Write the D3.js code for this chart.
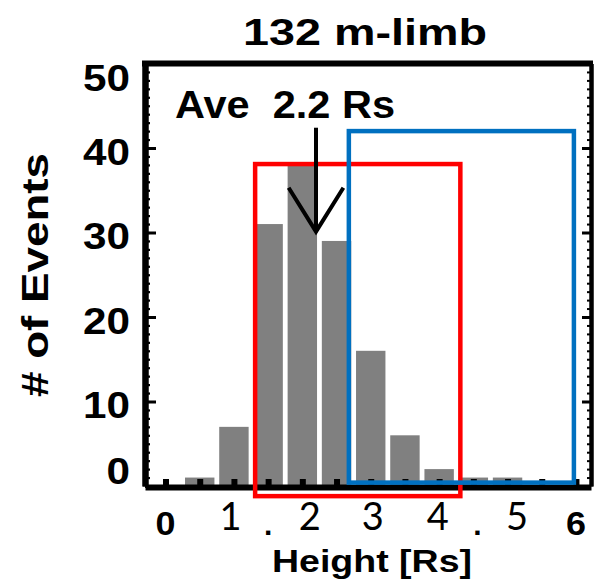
<!DOCTYPE html>
<html>
<head>
<meta charset="utf-8">
<script src="https://cdn.jsdelivr.net/npm/d3@7"></script>
<style>
  html, body { margin: 0; padding: 0; background: #fff; }
  svg { display: block; }
</style>
</head>
<body>
<script>
// ---- data ----
const binCenters = [0.5, 1.0, 1.5, 2.0, 2.5, 3.0, 3.5, 4.0, 4.5, 5.0];
const binCounts  = [1, 7, 31, 38, 29, 16, 6, 2, 1, 1];
const binWidth = 0.43;

const yTicksMajor = [0, 10, 20, 30, 40, 50];
const yTickLabels = ["0", "10", "20", "30", "40", "50"];
const xTickValues = [0, 0.5, 1, 1.5, 2, 2.5, 3, 3.5, 4, 4.5, 5, 5.5, 6];
const xTickLabels = ["0", "1", "2", "3", "4", "5", "6"];
const xTickLabelAt = [0, 0.95, 2.11, 3.03, 3.98, 5.14, 6.0];
const xDotAt = [1.5, 4.56];

const titleText = "132 m-limb";
const xTitle = "Height [Rs]";
const yTitle = "# of Events";
const aveText = "Ave  2.2 Rs";
const aveValue = 2.2;

// boxes in data units [x0, x1, y0, y1]
const redBox  = [1.31, 4.31, -1.2, 38.1];
const blueBox = [2.68, 5.97, 0.4, 42.0];
// arrow in data units
const arrowTop = 42.4, arrowTip = 30.1, arrowWingY = 35.3, arrowWingDx = 0.4;

// ---- layout ----
const W = 594, H = 584;
const x = d3.scaleLinear().domain([-0.3, 6.22]).range([145, 591]);
const y = d3.scaleLinear().domain([0, 50]).range([486, 63.5]);

const svg = d3.select("body").append("svg").attr("width", W).attr("height", H);
svg.append("rect").attr("width", W).attr("height", H).attr("fill", "#fff");

const boldFont = "'Liberation Sans', Arial, Helvetica, sans-serif";

// bars
svg.append("g").selectAll("rect")
  .data(binCenters.map((c, i) => ({ c, n: binCounts[i] })))
  .join("rect")
  .attr("x", d => x(d.c - binWidth / 2))
  .attr("width", d => x(d.c + binWidth / 2) - x(d.c - binWidth / 2))
  .attr("y", d => y(d.n))
  .attr("height", d => y(0) - y(d.n))
  .attr("fill", "#808080");

// axes
function styleAxis(g, w) {
  g.selectAll("path").attr("stroke", "#000").attr("stroke-width", w);
  g.selectAll("line").attr("stroke", "#000");
  g.selectAll("text").remove();
}
// bottom
const gb = svg.append("g").attr("transform", `translate(0,${y(0) + 1})`)
  .call(d3.axisBottom(x).tickValues(xTickValues).tickSize(-8).tickSizeOuter(0).tickFormat(""));
styleAxis(gb, 6);
gb.selectAll(".tick line").attr("stroke-width", 6);

// left minor + major
const yMinor = d3.range(0, 51, 1);
const glm = svg.append("g").attr("transform", `translate(${x.range()[0]},0)`)
  .call(d3.axisLeft(y).tickValues(yMinor).tickSize(-5).tickSizeOuter(0).tickFormat(""));
styleAxis(glm, 6);
glm.selectAll(".tick line").attr("stroke-width", 2.2);
const glM = svg.append("g").attr("transform", `translate(${x.range()[0]},0)`)
  .call(d3.axisLeft(y).tickValues(yTicksMajor).tickSize(-11).tickSizeOuter(0).tickFormat(""));
styleAxis(glM, 6);
glM.selectAll(".tick line").attr("stroke-width", 3);

// right minor + major
const grm = svg.append("g").attr("transform", `translate(${x.range()[1]},0)`)
  .call(d3.axisRight(y).tickValues(yMinor).tickSize(-4).tickSizeOuter(0).tickFormat(""));
styleAxis(grm, 4);
grm.selectAll(".tick line").attr("stroke-width", 2);
const grM = svg.append("g").attr("transform", `translate(${x.range()[1]},0)`)
  .call(d3.axisRight(y).tickValues(yTicksMajor).tickSize(-9).tickSizeOuter(0).tickFormat(""));
styleAxis(grM, 4);
grM.selectAll(".tick line").attr("stroke-width", 3);

// top
svg.append("line")
  .attr("x1", x.range()[0] - 3).attr("x2", x.range()[1] + 2)
  .attr("y1", y(50)).attr("y2", y(50))
  .attr("stroke", "#000").attr("stroke-width", 6);

// y tick labels
svg.append("g").selectAll("text")
  .data(yTicksMajor.map((v, i) => ({ v, t: yTickLabels[i] })))
  .join("text")
  .attr("x", 130)
  .attr("y", d => Math.max(77, Math.min(470, y(d.v) + 3)) + 13.5)
  .attr("text-anchor", "end")
  .attr("font-family", boldFont).attr("font-weight", "bold").attr("font-size", 37)
  .attr("textLength", d => d.t.length * 23.5).attr("lengthAdjust", "spacingAndGlyphs")
  .text(d => d.t);

// x tick labels (first and last in the plot's bold face, the rest in a lighter face)
const isEnd = i => i === 0 || i === xTickLabels.length - 1;
svg.append("g").selectAll("text")
  .data(xTickLabels.map((t, i) => ({ t, v: xTickLabelAt[i], i })))
  .join("text")
  .attr("x", d => x(d.v))
  .attr("y", d => isEnd(d.i) ? 534.5 : 530)
  .attr("text-anchor", "middle")
  .attr("font-family", d => isEnd(d.i) ? boldFont : "Lato, Carlito, Calibri, sans-serif")
  .attr("font-weight", d => isEnd(d.i) ? "bold" : "normal")
  .attr("font-size", d => isEnd(d.i) ? 34 : 38)
  .each(function (d) {
    if (isEnd(d.i)) d3.select(this).attr("textLength", 20).attr("lengthAdjust", "spacingAndGlyphs");
  })
  .text(d => d.t);

svg.append("g").selectAll("text")
  .data(xDotAt)
  .join("text")
  .attr("x", d => x(d)).attr("y", 535)
  .attr("text-anchor", "middle")
  .attr("font-family", boldFont).attr("font-weight", "bold").attr("font-size", 30)
  .text(".");

// titles
svg.append("text")
  .attr("x", 365).attr("y", 45)
  .attr("text-anchor", "middle")
  .attr("font-family", boldFont).attr("font-weight", "bold").attr("font-size", 37.5)
  .attr("textLength", 244).attr("lengthAdjust", "spacingAndGlyphs")
  .text(titleText);

svg.append("text")
  .attr("x", 372).attr("y", 572)
  .attr("text-anchor", "middle")
  .attr("font-family", boldFont).attr("font-weight", "bold").attr("font-size", 31)
  .attr("textLength", 200).attr("lengthAdjust", "spacingAndGlyphs")
  .text(xTitle);

svg.append("text")
  .attr("transform", "translate(48,275) rotate(-90)")
  .attr("text-anchor", "middle")
  .attr("font-family", boldFont).attr("font-weight", "bold").attr("font-size", 37)
  .attr("textLength", 244).attr("lengthAdjust", "spacingAndGlyphs")
  .text(yTitle);

// boxes
function box(b, color) {
  svg.append("rect")
    .attr("x", x(b[0])).attr("y", y(b[3]))
    .attr("width", x(b[1]) - x(b[0]))
    .attr("height", y(b[2]) - y(b[3]))
    .attr("fill", "none").attr("stroke", color).attr("stroke-width", 4.5);
}
box(redBox, "#ff0000");
box(blueBox, "#0070c0");

// annotation text
svg.append("text")
  .attr("x", 175).attr("y", 118)
  .attr("font-family", boldFont).attr("font-weight", "bold").attr("font-size", 38)
  .attr("textLength", 220).attr("lengthAdjust", "spacingAndGlyphs")
  .style("white-space", "pre")
  .text(aveText);

// arrow
const line = d3.line().x(d => x(d[0])).y(d => y(d[1]));
svg.append("path")
  .attr("d", line([[aveValue, arrowTop], [aveValue, arrowTip]]))
  .attr("stroke", "#000").attr("stroke-width", 4).attr("fill", "none");
svg.append("path")
  .attr("d", line([[aveValue - arrowWingDx, arrowWingY], [aveValue, arrowTip], [aveValue + arrowWingDx, arrowWingY]]))
  .attr("stroke", "#000").attr("stroke-width", 4).attr("fill", "none")
  .attr("stroke-linejoin", "miter");
</script>
</body>
</html>
